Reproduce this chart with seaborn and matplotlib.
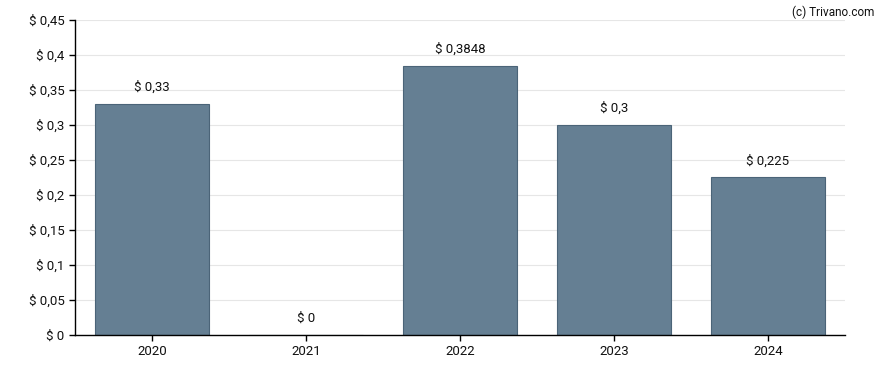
import matplotlib
matplotlib.use("Agg")
import matplotlib.pyplot as plt
import seaborn as sns
import pandas as pd

years = ["2020", "2021", "2022", "2023", "2024"]
dividends = [0.33, 0.0, 0.3848, 0.3, 0.225]
value_labels = ["$ 0,33", "$ 0", "$ 0,3848", "$ 0,3", "$ 0,225"]
y_ticks = [0, 0.05, 0.1, 0.15, 0.2, 0.25, 0.3, 0.35, 0.4, 0.45]
y_tick_labels = ["$ 0", "$ 0,05", "$ 0,1", "$ 0,15", "$ 0,2", "$ 0,25",
                 "$ 0,3", "$ 0,35", "$ 0,4", "$ 0,45"]

sns.set_style("white")
plt.rcParams["font.family"] = ["Roboto", "DejaVu Sans"]

df = pd.DataFrame({"year": years, "value": dividends})

fig = plt.figure(figsize=(8.88, 3.70), dpi=100)
ax = fig.add_axes([0.0845, 0.0946, 0.867, 0.8514])

sns.barplot(data=df, x="year", y="value", ax=ax, color="#657f93",
            saturation=1, width=0.745, edgecolor="#4b6478", linewidth=0.8,
            zorder=2)

for i, (v, lab) in enumerate(zip(dividends, value_labels)):
    ax.annotate(lab, (i, v), xytext=(0, 7), textcoords="offset points",
                ha="center", va="bottom", fontsize=9.5, color="#111111")

ax.set_xlim(-0.5, 4.5)
ax.set_ylim(0, 0.45)
ax.set_yticks(y_ticks)
ax.set_yticklabels(y_tick_labels)
ax.yaxis.grid(True, color="#e6e6e6", linewidth=0.8, zorder=0)
ax.set_axisbelow(True)
ax.set_xlabel("")
ax.set_ylabel("")
for s in ["top", "right"]:
    ax.spines[s].set_visible(False)
for s in ["left", "bottom"]:
    ax.spines[s].set_color("black")
    ax.spines[s].set_linewidth(1)
ax.tick_params(axis="both", which="both", length=4, width=1, color="black",
               labelsize=9.5, labelcolor="#111111", left=True, bottom=True)

fig.text(0.985, 0.985, "(c) Trivano.com", ha="right", va="top",
         fontsize=8.5, color="#111111")

fig.savefig("out.png", dpi=100)
